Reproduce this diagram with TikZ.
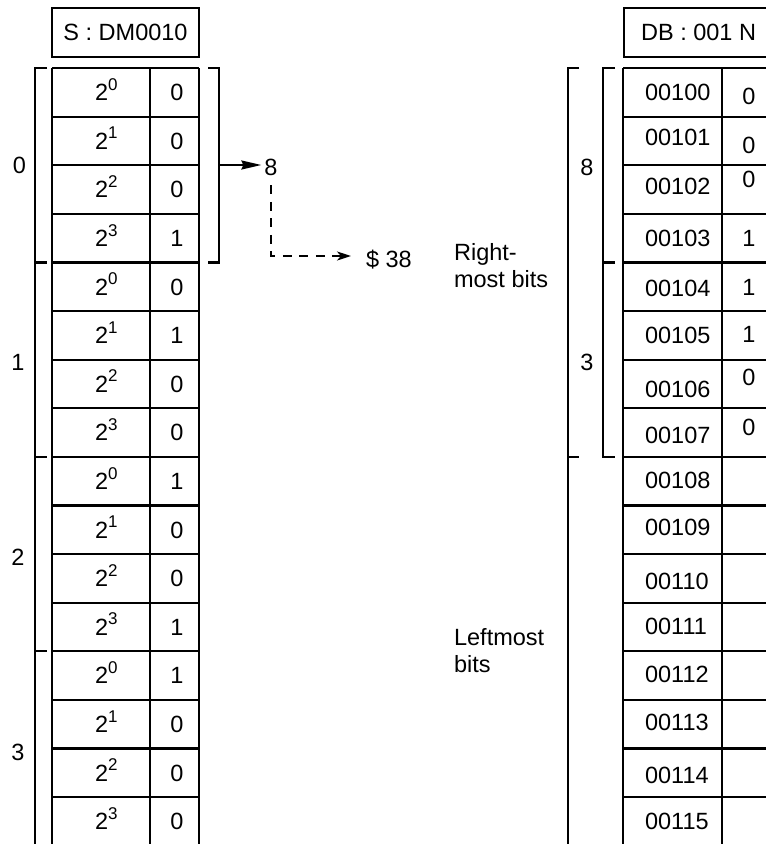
\documentclass[tikz,border=0pt]{standalone}
\usepackage{fontspec}
\setmainfont{Liberation Sans}
\usetikzlibrary{arrows.meta}
\newcommand\mypow[1]{2\raisebox{10.5pt}{\fontsize{17}{17}\selectfont #1}}
\begin{document}
\begin{tikzpicture}[x=1pt,y=-1pt,line width=2.2pt,
  txt/.style={inner sep=0pt,font=\fontsize{23.5}{27}\selectfont},
  hdr/.style={txt,draw,minimum height=49pt},
  dashline/.style={dash pattern=on 9pt off 7.5pt},
  bigtip/.style={-{Stealth[length=20pt,width=9pt,inset=2pt]}},
  dashtip/.style={-{Stealth[length=14pt,width=9pt,inset=4pt]}}]
\useasboundingbox (0,0) rectangle (766,844);

% ---------- left table ----------
\node[hdr,minimum width=147pt] (hs) at (125.5,32.5) {S : DM0010};
\draw (52,68) -- (52,850) (150,68) -- (150,850) (199,68) -- (199,850);
\foreach \k in {0,...,15}{\draw (52,68+48.6*\k) -- (199,68+48.6*\k);}
\foreach \e/\v [count=\k from 0] in {0/0,1/0,2/0,3/1,0/0,1/1,2/0,3/0,0/1,1/0,2/0,3/1,0/1,1/0,2/0,3/0}{
  \node[txt,anchor=base west] (p\k) at (94,92.3+48.6*\k+8.4) {\mypow{\e}};
  \node[txt,anchor=base] (v\k) at (177,92.3+48.6*\k+8.4) {\v};
}
% left brackets
\draw (47,68) -- (35,68) -- (35,850);
\foreach \y in {262.4,456.8,651.2}{\draw (35,\y) -- (47,\y);}
\node[txt] (g0) at (19.5,165) {0};
\node[txt] (g1) at (18,362) {1};
\node[txt] (g2) at (18,557) {2};
\node[txt] (g3) at (18,752) {3};
% right bracket of group 0
\draw (208,68) -- (219,68) -- (219,262.4) -- (208,262.4);
\coordinate (b0) at (219,165);
\node[txt] (eight) at (271,167) {8};
\node[txt,anchor=base west] (d38) at (365,267) {\$ 38};
\draw[bigtip] (b0) -- ([xshift=-2pt]eight.west |- b0);
\draw[dashline,dashtip,shorten <=9pt,shorten >=14pt] (eight.south) |- (d38.west |- 0,256);

% ---------- notes ----------
\node[txt,anchor=base west,align=left] (rm) at (453,287) {Right-\\most bits};
\node[txt,anchor=base west,align=left] (lm) at (453,672) {Leftmost\\bits};

% ---------- right table ----------
\draw (790,8) -- (624,8) -- (624,57) -- (790,57);
\node[txt,anchor=west] (hd) at (640,32.5) {DB : 001 N};
\draw (623,68) -- (623,850) (722,68) -- (722,850);
\foreach \k in {0,...,15}{\draw (623,68+48.6*\k) -- (790,68+48.6*\k);}
\foreach \t/\d [count=\k from 0] in {00100/0,00101/-4,00102/-3,00103/0,00104/1,00105/0,00106/5,00107/3,00108/-1,00109/-3,00110/3,00111/-1,00112/-1,00113/-2,00114/2,00115/0}{
  \node[txt,anchor=base west] (a\k) at (644,92.3+48.6*\k+8.4+\d) {\t};
}
\foreach \v/\d [count=\k from 0] in {0/4,0/4,0/-10,1/0,1/0,1/-1,0/-7,0/-5}{
  \node[txt,anchor=base] (w\k) at (749,92.3+48.6*\k+8.4+\d) {\v};
}
% right brackets
\draw (579,68) -- (568,68) -- (568,850);
\draw (568,456.8) -- (579,456.8);
\draw (615,68) -- (603,68) -- (603,456.8) -- (615,456.8);
\draw (603,262.4) -- (615,262.4);
\node[txt] (r8) at (587,167) {8};
\node[txt] (r3) at (587,362) {3};
\end{tikzpicture}
\end{document}
